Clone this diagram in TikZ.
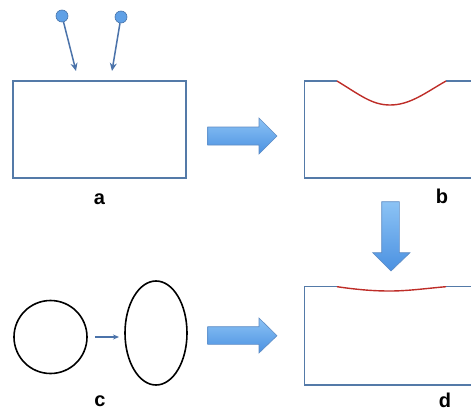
\documentclass[tikz,border=0pt]{standalone}
\usepackage{fontspec}
\setmainfont{Liberation Sans}
\usetikzlibrary{shapes.geometric,arrows.meta}
\definecolor{boxblue}{RGB}{84,122,168}
\definecolor{curvered}{RGB}{190,45,40}
\definecolor{arrtop}{RGB}{140,195,245}
\definecolor{arrbot}{RGB}{75,145,225}
\definecolor{arredge}{RGB}{95,140,195}
\definecolor{pinfill}{RGB}{95,160,230}
\definecolor{pinedge}{RGB}{70,115,170}
\definecolor{thinarrow}{RGB}{75,115,170}
\tikzset{
  box/.style={draw=boxblue,line width=1.5pt},
  redline/.style={draw=curvered,line width=1.4pt},
  bigarrow/.style={draw=arredge,line width=0.6pt,top color=arrtop,bottom color=arrbot},
  pin/.style={circle,draw=pinedge,fill=pinfill,line width=0.6pt,minimum size=12pt,inner sep=0pt},
  pinarrow/.style={draw=thinarrow,line width=1.5pt,-{Stealth[length=8pt,width=7pt]}},
  ring/.style={draw=black,line width=1.6pt,inner sep=0pt},
  lab/.style={font=\bfseries\fontsize{20}{24}\selectfont,anchor=base,inner sep=0pt}
}
\begin{document}
\begin{tikzpicture}[x=1pt,y=-1pt]
\useasboundingbox (0,0) rectangle (471,410);
\clip (0,0) rectangle (471,410);
% panel a
\node[box,rectangle,minimum width=173pt,minimum height=97pt,inner sep=0pt] (ra) at (99.5,129.5) {};
\node[pin] (pinL) at (62,16) {};
\node[pin] (pinR) at (121,17) {};
\coordinate (tipL) at (76,71);
\coordinate (tipR) at (112,71);
\draw[pinarrow] (pinL) -- (tipL);
\draw[pinarrow] (pinR) -- (tipR);
\node[lab] (la) at (99.5,204) {a};
% arrow a -> b
\path[bigarrow] (207.7,127) -- (259,127) -- (259,118) -- (277,136) -- (259,154) -- (259,145) -- (207.7,145) -- cycle;
% panel b
\coordinate (b1) at (337,81);
\coordinate (b2) at (446,81);
\draw[box] (475,81) -- (b2);
\draw[box] (b1) -- (304.7,81) -- (304.7,178) -- (475,178);
\draw[redline] (b1) .. controls (360,95) and (372,105) .. (390,105) .. controls (410,105) and (425,93) .. (b2);
\node[lab] (lb) at (442,203) {b};
% arrow b -> d
\path[bigarrow] (381.7,201.7) -- (399.3,201.7) -- (399.3,252.7) -- (410,252.7) -- (391,271) -- (372.7,252.7) -- (381.7,252.7) -- cycle;
% panel c
\node[ring,circle,minimum size=73pt] (circ) at (50.5,337) {};
\node[ring,ellipse,minimum width=62pt,minimum height=104pt] (ell) at (156,333) {};
\draw[draw=thinarrow,line width=1.2pt,-{Stealth[length=6pt,width=5pt]}] (circ.east) ++(7,0) coordinate (ca) -- (119,337) coordinate (cb);
\node[lab] (lc) at (100,406) {c};
% arrow c -> d
\path[bigarrow] (207.7,326.7) -- (259,326.7) -- (259,318) -- (277,335.7) -- (259,353) -- (259,344.3) -- (207.7,344.3) -- cycle;
% panel d
\coordinate (d1) at (337,286.7);
\coordinate (d2) at (446,286.7);
\draw[box] (475,286.7) -- (d2);
\draw[box] (d1) -- (304.7,286.7) -- (304.7,385) -- (475,385);
\draw[redline] (d1) .. controls (360,290) and (375,291) .. (390,291) .. controls (408,291) and (425,288.5) .. (d2);
\node[lab] (ld) at (445,407) {d};
\end{tikzpicture}
\end{document}
